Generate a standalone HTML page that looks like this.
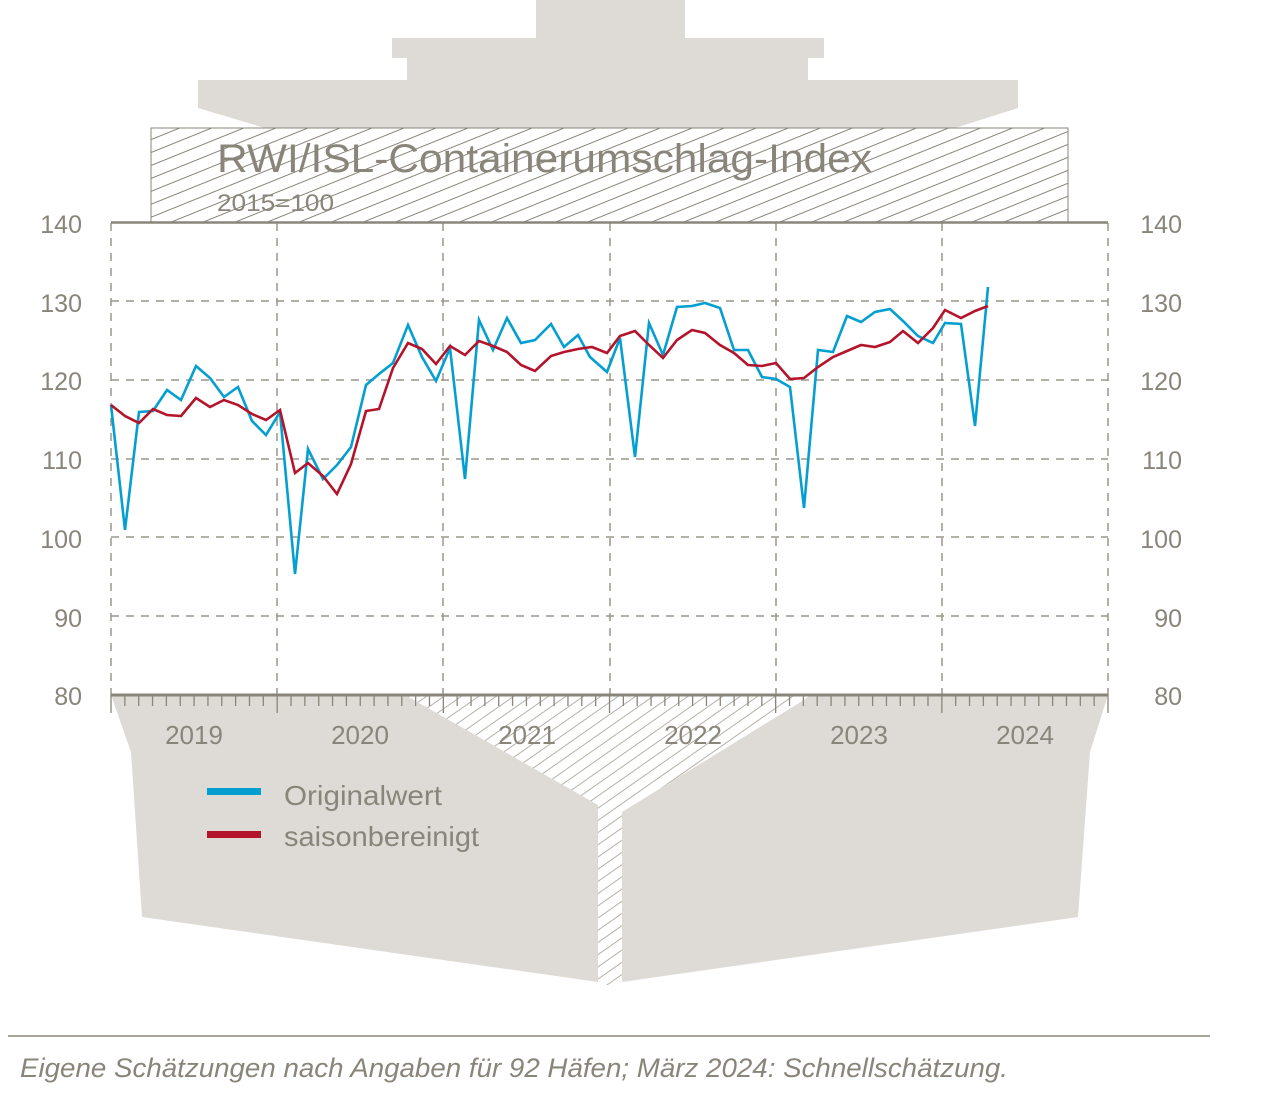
<!DOCTYPE html>
<html><head><meta charset="utf-8"><style>
html,body{margin:0;padding:0;background:#fff;}
svg{display:block;}
text{font-family:"Liberation Sans",sans-serif;fill:#8a857a;}
</style></head><body>
<svg width="1271" height="1111" viewBox="0 0 1271 1111" xmlns="http://www.w3.org/2000/svg">
<defs>
<pattern id="h" patternUnits="userSpaceOnUse" width="12" height="12" patternTransform="rotate(-22)">
<rect width="12" height="12" fill="#fff"/>
<line x1="0" y1="6" x2="12" y2="6" stroke="#8a857a" stroke-width="1"/>
</pattern>
<pattern id="h2" patternUnits="userSpaceOnUse" width="10" height="10" patternTransform="rotate(-35)">
<rect width="10" height="10" fill="#fff"/>
<line x1="0" y1="5" x2="10" y2="5" stroke="#b5b1a9" stroke-width="1"/>
</pattern>
</defs>
<!-- top superstructure -->
<g fill="#dedbd6">
<rect x="536" y="0" width="149" height="40"/>
<rect x="392" y="38" width="432" height="20"/>
<rect x="407" y="56" width="401" height="26"/>
<polygon points="198,80 1018,80 1018,108 955,128 265,128 198,108"/>
</g>
<rect x="151" y="128" width="917" height="94" fill="url(#h)" stroke="#8a857a" stroke-width="1"/>
<text x="217" y="172" font-size="40" textLength="655" lengthAdjust="spacingAndGlyphs">RWI/ISL-Containerumschlag-Index</text>
<text x="217" y="211" font-size="24" textLength="117" lengthAdjust="spacingAndGlyphs">2015=100</text>
<!-- bottom hull -->
<polygon points="400,695 820,695 622,812 598,812" fill="url(#h2)"/>
<rect x="598" y="805" width="24" height="180" fill="url(#h2)"/>
<g fill="#dedbd6">
<polygon points="111,695 405,695 598,805 598,982 142,917 131,752"/>
<polygon points="812,695 1108,695 1090,752 1078,917 622,982 622,812"/>
</g>
<!-- grid -->
<g stroke="#9a958c" stroke-width="1.5" stroke-dasharray="8,7" fill="none">
<line x1="111" y1="301" x2="1108" y2="301"/>
<line x1="111" y1="380" x2="1108" y2="380"/>
<line x1="111" y1="459" x2="1108" y2="459"/>
<line x1="111" y1="537" x2="1108" y2="537"/>
<line x1="111" y1="616" x2="1108" y2="616"/>
<line x1="111" y1="223" x2="111" y2="695"/>
<line x1="277" y1="223" x2="277" y2="695"/>
<line x1="443" y1="223" x2="443" y2="695"/>
<line x1="610" y1="223" x2="610" y2="695"/>
<line x1="776" y1="223" x2="776" y2="695"/>
<line x1="942" y1="223" x2="942" y2="695"/>
<line x1="1108" y1="223" x2="1108" y2="695"/>
</g>
<line x1="111" y1="222.5" x2="1108" y2="222.5" stroke="#8a857a" stroke-width="2.5"/>
<line x1="111" y1="695" x2="1108" y2="695" stroke="#8a857a" stroke-width="3"/>
<g stroke="#8a857a" stroke-width="1.3" id="ticks"></g>
<!-- y labels -->
<g font-size="25" text-anchor="end">
<text x="82" y="233">140</text><text x="82" y="312">130</text><text x="82" y="390">120</text>
<text x="82" y="469">110</text><text x="82" y="548">100</text><text x="82" y="627">90</text><text x="82" y="705">80</text>
<text x="1182" y="233">140</text><text x="1182" y="312">130</text><text x="1182" y="390">120</text>
<text x="1182" y="469">110</text><text x="1182" y="548">100</text><text x="1182" y="627">90</text><text x="1182" y="705">80</text>
</g>
<g font-size="26" text-anchor="middle">
<text x="194" y="744">2019</text><text x="360" y="744">2020</text><text x="527" y="744">2021</text>
<text x="693" y="744">2022</text><text x="859" y="744">2023</text><text x="1025" y="744">2024</text>
</g>
<!-- series -->
<polyline fill="none" stroke="#049fd0" stroke-width="2.6" stroke-linejoin="miter" points="111,405 125,530 139,412 153,411 167,390 181,400 196,366 210,378 224,397 238,387 252,421 266,435 280,412 295,574 308,449 323,479 337,465 351,447 366,385 379,374 393,363 408,325 422,357 436,381 450,348 465,479 479,320 493,350 507,318 521,343 535,340 551,324 564,347 578,335 590,357 607,372 620,338 635,457 649,323 663,355 677,307 692,306 705,303 720,308 734,350 748,350 762,377 776,379 790,387 804,508 818,350 833,352 847,316 861,322 875,312 890,309 903,321 918,336 933,343 945,323 961,324 975,426 988,287"/>
<polyline fill="none" stroke="#b4142b" stroke-width="2.6" points="111,405 125,416 139,423 153,409 167,415 181,416 196,398 210,407 224,400 238,405 252,414 266,420 280,410 295,473 308,463 323,476 337,494 351,464 366,411 379,409 393,368 408,343 422,349 436,364 450,346 465,355 479,341 493,346 507,352 521,365 535,371 551,356 564,352 578,349 592,347 607,353 620,336 635,331 649,345 663,358 677,340 692,330 705,333 720,345 734,353 748,365 762,366 776,363 790,379 804,378 818,367 833,357 847,351 861,345 875,347 890,342 903,331 918,343 933,328 945,310 961,318 975,311 988,306"/>
<!-- legend -->
<rect x="207" y="788" width="54" height="7" fill="#049fd0"/>
<rect x="207" y="831" width="54" height="7" fill="#b4142b"/>
<text x="284" y="805" font-size="28" textLength="158" lengthAdjust="spacingAndGlyphs">Originalwert</text>
<text x="284" y="846" font-size="28" textLength="195" lengthAdjust="spacingAndGlyphs">saisonbereinigt</text>
<!-- footer -->
<line x1="8" y1="1036" x2="1210" y2="1036" stroke="#8a857a" stroke-width="1.5"/>
<text x="20" y="1077" font-size="27" font-style="italic" textLength="988" lengthAdjust="spacingAndGlyphs">Eigene Schätzungen nach Angaben für 92 Häfen; März 2024: Schnellschätzung.</text>
</svg>
<script>
var g=document.getElementById('ticks'),s='';
for(var i=0;i<=72;i++){var x=111+i*997/72;var l=(i%12==0)?713:706;
s+='<line x1="'+x+'" y1="695" x2="'+x+'" y2="'+l+'"/>';}
g.innerHTML=s;
</script>
</body></html>
